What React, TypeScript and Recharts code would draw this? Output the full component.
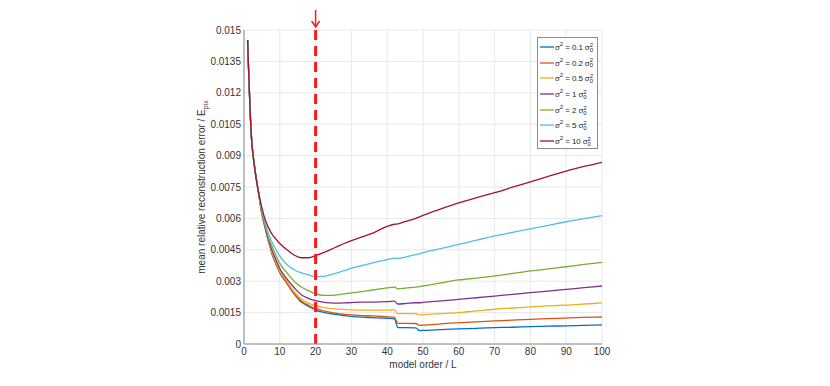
import React from 'react';
import {
  CartesianGrid,
  Line,
  LineChart,
  ReferenceLine,
  XAxis,
  YAxis,
} from 'recharts';

const orders = [1, 2, 3, 4, 5, 6, 7, 8, 9, 10, 12, 14, 16, 18, 20, 22, 24, 26, 28, 30, 33, 36, 40, 42, 43, 45, 48, 49, 50, 55, 60, 65, 70, 75, 80, 85, 90, 95, 100];

const s01 = [0.01452, 0.0101, 0.0084, 0.0073, 0.0062, 0.0055, 0.0048, 0.0042, 0.0038, 0.0034, 0.0029, 0.0024, 0.002, 0.0018, 0.00162, 0.00152, 0.00145, 0.0014, 0.00136, 0.00132, 0.00128, 0.00126, 0.00123, 0.0012, 0.00078, 0.00078, 0.00077, 0.00064, 0.00065, 0.00069, 0.00072, 0.00075, 0.00078, 0.0008, 0.00083, 0.00085, 0.00087, 0.00089, 0.00091];
const s02 = [0.01452, 0.0101, 0.0084, 0.0073, 0.0062, 0.0055, 0.0048, 0.0043, 0.0038, 0.00344, 0.0029, 0.0024, 0.00205, 0.00185, 0.0017, 0.0016, 0.00152, 0.00146, 0.00142, 0.00139, 0.00136, 0.00134, 0.0013, 0.00128, 0.00099, 0.00099, 0.00098, 0.00089, 0.0009, 0.00096, 0.00102, 0.00106, 0.0011, 0.00114, 0.00118, 0.00121, 0.00124, 0.00127, 0.00129];
const s05 = [0.01452, 0.0101, 0.0084, 0.0073, 0.0062, 0.0055, 0.0048, 0.0043, 0.0039, 0.0035, 0.003, 0.0025, 0.00215, 0.00195, 0.00183, 0.00175, 0.0017, 0.00167, 0.00165, 0.00163, 0.00162, 0.00162, 0.00162, 0.00163, 0.00145, 0.00145, 0.00145, 0.00139, 0.0014, 0.00145, 0.0015, 0.00158, 0.00166, 0.00172, 0.00177, 0.00182, 0.00186, 0.00191, 0.00196];
const s1 = [0.01452, 0.0101, 0.0084, 0.0073, 0.0063, 0.0055, 0.0049, 0.0044, 0.004, 0.00361, 0.0031, 0.0027, 0.00235, 0.00218, 0.00207, 0.002, 0.00196, 0.00195, 0.00196, 0.00198, 0.002, 0.002, 0.00202, 0.00205, 0.00191, 0.00193, 0.00197, 0.00197, 0.00199, 0.00206, 0.00213, 0.00221, 0.00229, 0.00237, 0.00245, 0.00253, 0.00261, 0.00269, 0.00277];
const s2 = [0.01452, 0.0101, 0.0084, 0.0073, 0.0063, 0.0056, 0.005, 0.0046, 0.0042, 0.00385, 0.0034, 0.003, 0.00272, 0.00255, 0.0024, 0.00232, 0.00232, 0.00235, 0.00239, 0.00244, 0.0025, 0.00258, 0.00268, 0.00272, 0.00263, 0.00267, 0.00272, 0.00274, 0.00277, 0.00292, 0.00306, 0.00315, 0.00325, 0.00337, 0.00349, 0.00359, 0.00369, 0.0038, 0.0039];
const s5 = [0.01452, 0.0101, 0.0084, 0.0073, 0.0064, 0.0057, 0.0052, 0.0048, 0.0045, 0.0042, 0.0038, 0.00355, 0.0034, 0.0033, 0.00322, 0.00323, 0.0033, 0.0034, 0.0035, 0.00362, 0.00375, 0.00388, 0.00403, 0.0041, 0.00409, 0.00415, 0.00427, 0.00431, 0.00436, 0.00456, 0.00476, 0.00496, 0.00516, 0.00533, 0.0055, 0.00567, 0.00584, 0.00599, 0.00613];
const s10 = [0.01452, 0.0101, 0.0084, 0.0073, 0.0065, 0.0059, 0.0055, 0.0052, 0.005, 0.0048, 0.0045, 0.00425, 0.00412, 0.00412, 0.00422, 0.00435, 0.0045, 0.00465, 0.0048, 0.00494, 0.00512, 0.0053, 0.00562, 0.00572, 0.00574, 0.00585, 0.006, 0.00607, 0.00614, 0.00645, 0.00674, 0.00699, 0.00723, 0.00749, 0.00775, 0.00801, 0.00826, 0.00848, 0.00868];

const seriesLabels = ['0.1', '0.2', '0.5', '1', '2', '5', '10'];
const seriesKeys = ['s01', 's02', 's05', 's1', 's2', 's5', 's10'];
const seriesColors = ['#0072BD', '#D95319', '#EDB120', '#7E2F8E', '#77AC30', '#4DBEEE', '#A2142F'];

const xTicks = [0, 10, 20, 30, 40, 50, 60, 70, 80, 90, 100];
const yTicks = [0, 0.0015, 0.003, 0.0045, 0.006, 0.0075, 0.009, 0.0105, 0.012, 0.0135, 0.015];
const chosenOrder = 20;

const data = orders.map((L, i) => ({
  L,
  s01: s01[i],
  s02: s02[i],
  s05: s05[i],
  s1: s1[i],
  s2: s2[i],
  s5: s5[i],
  s10: s10[i],
}));

const FONT = '"Liberation Sans", Arial, sans-serif';
const AXIS = '#8c8c8c';
const TEXT = '#333333';

const fmtY = (v: number) => (v === 0 ? '0' : String(Number(v.toFixed(4))));

// legend drawn as an overlay, so it doesn't eat into the plot area
const LegendBox = () => (
  <div
    style={{
      position: 'absolute',
      left: 537,
      top: 37,
      boxSizing: 'border-box',
      width: 61,
      height: 112,
      border: '1px solid #8c8c8c',
      background: '#fff',
      padding: '1px 0 0 2px',
      fontFamily: FONT,
      fontSize: 8,
      color: '#222',
    }}
  >
    {seriesLabels.map((lab, i) => (
      <div key={lab} style={{ display: 'flex', alignItems: 'center', height: 15.7 }}>
        <svg width={14} height={6} style={{ marginRight: 1, flex: 'none' }}>
          <line x1={0} y1={3} x2={14} y2={3} stroke={seriesColors[i]} strokeWidth={1.3} />
        </svg>
        <span style={{ whiteSpace: 'nowrap', letterSpacing: -0.1 }}>
          σ<sup style={{ fontSize: 6, verticalAlign: 4 }}>2</sup> = {lab} σ
          <span
            style={{
              display: 'inline-flex',
              flexDirection: 'column',
              fontSize: 6,
              lineHeight: '5px',
              verticalAlign: 'middle',
            }}
          >
            <span>2</span>
            <span>0</span>
          </span>
        </span>
      </div>
    ))}
  </div>
);

const YLabel = (props: any) => {
  const vb = props.viewBox || {};
  const cx = vb.x + 1;
  const cy = vb.y + vb.height / 2;
  return (
    <text
      x={cx}
      y={cy}
      transform={`rotate(-90, ${cx}, ${cy})`}
      textAnchor="middle"
      fontFamily={FONT}
      fontSize={10}
      fill={TEXT}
    >
      mean relative reconstruction error / E
      <tspan fontSize={7} dy={3}>pix</tspan>
    </text>
  );
};

const Arrow = (props: any) => {
  const vb = props.viewBox || {};
  const x = vb.x;
  const y = vb.y;
  return (
    <g>
      <line x1={x} y1={y - 20} x2={x} y2={y - 3} stroke="#ff1a1a" strokeWidth={1.5} />
      <polyline
        points={`${x - 4},${y - 9} ${x},${y - 3} ${x + 4},${y - 9}`}
        fill="none"
        stroke="#ff1a1a"
        strokeWidth={1.5}
      />
    </g>
  );
};

const noTick = () => null;

export default function App() {
  return (
    <div style={{ position: 'absolute', left: 0, top: 0, width: 830, height: 386, background: '#fff' }}>
      <LineChart
        width={830}
        height={386}
        data={data}
        margin={{ top: 30, right: 228, bottom: 22, left: 204 }}
      >
        <CartesianGrid stroke="#e8e8e8" strokeWidth={1} />
        <XAxis
          dataKey="L"
          type="number"
          domain={[0, 100]}
          ticks={xTicks}
          interval={0}
          tickLine={false}
          axisLine={{ stroke: AXIS }}
          tick={{ fill: TEXT, fontSize: 10, fontFamily: FONT }}
          tickSize={2}
          tickMargin={2}
          height={20}
          label={{ value: 'model order / L', position: 'insideBottom', offset: -4, fill: TEXT, fontSize: 10, fontFamily: FONT }}
        />
        <XAxis
          xAxisId="top"
          dataKey="L"
          type="number"
          orientation="top"
          domain={[0, 100]}
          ticks={xTicks}
          interval={0}
          mirror
          height={0}
          tick={noTick}
          tickSize={3}
          tickLine={{ stroke: AXIS }}
          axisLine={{ stroke: AXIS }}
        />
        <XAxis
          xAxisId="bottomTicks"
          dataKey="L"
          type="number"
          orientation="bottom"
          domain={[0, 100]}
          ticks={xTicks}
          interval={0}
          mirror
          height={0}
          tick={noTick}
          tickSize={3}
          tickLine={{ stroke: AXIS }}
          axisLine={false}
        />
        <YAxis
          type="number"
          domain={[0, 0.015]}
          ticks={yTicks}
          interval={0}
          tickFormatter={fmtY}
          tickLine={false}
          axisLine={{ stroke: AXIS }}
          tick={{ fill: TEXT, fontSize: 10, fontFamily: FONT }}
          tickSize={2}
          tickMargin={1}
          width={40}
          label={<YLabel />}
        />
        <YAxis
          yAxisId="right"
          orientation="right"
          type="number"
          domain={[0, 0.015]}
          ticks={yTicks}
          interval={0}
          mirror
          width={0}
          tick={noTick}
          tickSize={3}
          tickLine={{ stroke: AXIS }}
          axisLine={{ stroke: AXIS }}
        />
        <YAxis
          yAxisId="leftTicks"
          orientation="left"
          type="number"
          domain={[0, 0.015]}
          ticks={yTicks}
          interval={0}
          mirror
          width={0}
          tick={noTick}
          tickSize={3}
          tickLine={{ stroke: AXIS }}
          axisLine={false}
        />
        {seriesKeys.map((k, i) => (
          <Line
            key={k}
            type="monotone"
            dataKey={k}
            stroke={seriesColors[i]}
            strokeWidth={1.3}
            dot={false}
            isAnimationActive={false}
          />
        ))}
        <ReferenceLine
          x={chosenOrder}
          stroke="#ff1a1a"
          strokeWidth={3}
          strokeDasharray="10 6"
          label={<Arrow />}
        />
      </LineChart>
      <LegendBox />
    </div>
  );
}
